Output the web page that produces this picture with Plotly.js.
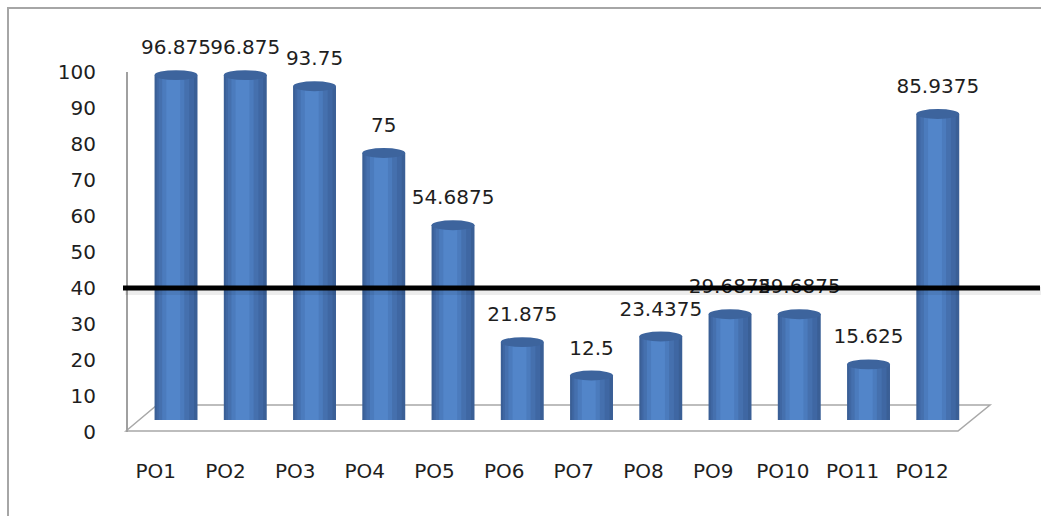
<!DOCTYPE html>
<html>
<head>
<meta charset="utf-8">
<script src="https://cdn.plot.ly/plotly-3.0.1.min.js"></script>
<style>html,body{margin:0;padding:0;background:#fff;}#chart{width:1041px;height:516px;}</style>
</head>
<body>
<div id="chart"></div>
<script>
const categories = ['PO1','PO2','PO3','PO4','PO5','PO6','PO7','PO8','PO9','PO10','PO11','PO12'];
const values = [96.875, 96.875, 93.75, 75, 54.6875, 21.875, 12.5, 23.4375, 29.6875, 29.6875, 15.625, 85.9375];
const valueLabels = values.map(v => String(v));
const yTicks = [0,10,20,30,40,50,60,70,80,90,100];
const thresholdValue = 40;

const W = 1041, H = 516;
const fx = p => p / W;
const fy = p => 1 - p / H;
const FONT = 'DejaVu Sans, Verdana, sans-serif';
const TXT = '#1e1e1e';

// cylinder shading layers: [width, offset, colour]
const shade = [
  [0.62, -0.31, '#3a5f96'],
  [0.54, -0.28, '#3f67a3'],
  [0.44, -0.25, '#4570ae'],
  [0.32, -0.20, '#4b7bbd'],
  [0.20, -0.14, '#5285c9']
];

const traces = shade.map(s => ({
  type:'bar', x:categories, y:values, xaxis:'x', yaxis:'y', width:s[0], offset:s[1],
  marker:{color:s[2], line:{width:0}}, hoverinfo:'skip'
}));
traces.push({type:'scatter', mode:'text', x:categories, y:values, xaxis:'x', yaxis:'y3',
   text:valueLabels, textposition:'middle center', cliponaxis:false,
   textfont:{family:FONT, size:20, color:TXT}, hoverinfo:'skip'});
traces.push({type:'scatter', mode:'none', x:categories, y:values, xaxis:'x2', yaxis:'y2', hoverinfo:'skip'});

const shapes = [];
// outer frame
shapes.push({type:'rect', xref:'paper', yref:'paper', x0:fx(8), x1:fx(1060), y0:fy(8), y1:fy(530),
  line:{color:'#a6a6a6', width:2}, layer:'below'});
// floor
shapes.push({type:'path', xref:'paper', yref:'paper', layer:'below',
  path:`M ${fx(126)} ${fy(431)} L ${fx(157)} ${fy(405)} L ${fx(990)} ${fy(405)} L ${fx(958)} ${fy(431)} Z`,
  line:{color:'#a8a8a8', width:1.5}, fillcolor:'rgba(255,255,255,0)'});
// bottom and top caps of the cylinders
categories.forEach((c, i) => {
  shapes.push({type:'circle', xref:'x', yref:'y', x0:i-0.31, x1:i+0.31, y0:-1.6, y1:1.2,
    fillcolor:'#4877b6', line:{width:0}, layer:'below'});
  shapes.push({type:'circle', xref:'x', yref:'y', x0:i-0.31, x1:i+0.31, y0:values[i]-1.4, y1:values[i]+1.4,
    fillcolor:'#3d649d', line:{width:0}, layer:'above'});
});
// threshold line with soft shadow
shapes.push({type:'line', xref:'paper', yref:'y2', x0:fx(125), x1:fx(1041), y0:thresholdValue-0.8, y1:thresholdValue-0.8,
  line:{color:'rgba(0,0,0,0.07)', width:8}, layer:'above'});
shapes.push({type:'line', xref:'paper', yref:'y2', x0:fx(123), x1:fx(1040), y0:thresholdValue, y1:thresholdValue,
  line:{color:'#000000', width:5}, layer:'above'});

const layout = {
  width:W, height:H,
  margin:{l:0, r:0, t:0, b:0, pad:0},
  paper_bgcolor:'#ffffff', plot_bgcolor:'rgba(0,0,0,0)',
  showlegend:false, barmode:'overlay',
  font:{family:FONT, size:20, color:TXT},
  xaxis:{type:'category', domain:[fx(141.4), fx(972.4)], range:[-0.5, 11.5], visible:false, fixedrange:true},
  yaxis:{domain:[fy(420), fy(64)], range:[0,100], visible:false, fixedrange:true},
  yaxis3:{domain:[fy(394), fy(38)], range:[0,100], visible:false, anchor:'x', fixedrange:true},
  xaxis2:{type:'category', domain:[fx(121), fx(957)], range:[-0.5, 11.5], anchor:'y2',
    showgrid:false, zeroline:false, showline:false, ticks:'', ticklabelstandoff:25,
    tickfont:{family:FONT, size:20, color:TXT}, fixedrange:true},
  yaxis2:{domain:[fy(432), fy(72)], range:[0,100], anchor:'free', position:fx(126),
    tickvals:yTicks, ticktext:yTicks.map(String),
    showgrid:false, zeroline:false, showline:true, linecolor:'#a0a0a0', linewidth:1.5,
    ticks:'', ticklabelstandoff:26, tickfont:{family:FONT, size:20, color:TXT}, fixedrange:true},
  shapes:shapes
};

Plotly.newPlot('chart', traces, layout, {displayModeBar:false, staticPlot:true});
</script>
</body>
</html>
